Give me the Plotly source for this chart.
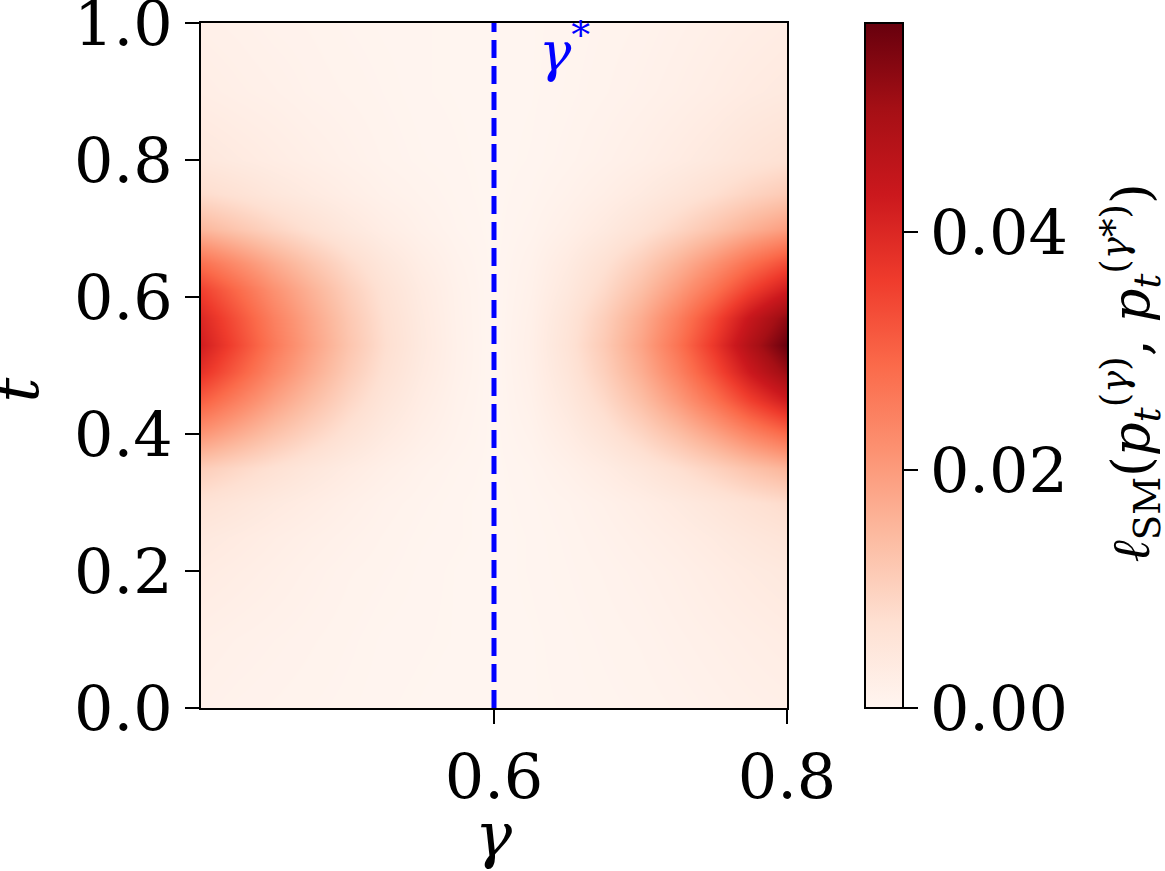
import numpy as np
import plotly.graph_objects as go

# gamma grid (x) and t grid (y)
gamma_vals = [0.400, 0.425, 0.450, 0.475, 0.500, 0.525, 0.550, 0.575, 0.600,
              0.625, 0.650, 0.675, 0.700, 0.725, 0.750, 0.775, 0.800]
t_vals = [0.0, 0.1, 0.2, 0.25, 0.3, 0.35, 0.4, 0.45, 0.49, 0.53, 0.57,
          0.61, 0.65, 0.7, 0.75, 0.8, 0.9, 1.0]

# loss values, in units of 1e-3 (rows follow t_vals, columns follow gamma_vals)
loss_milli = [
    [1.3, 1.0, 0.8, 0.6, 0.4, 0.2, 0.1, 0.0, 0.0, 0.1, 0.2, 0.4, 0.6, 0.9, 1.3, 1.7, 2.0],
    [1.9, 1.5, 1.2, 0.9, 0.6, 0.3, 0.2, 0.1, 0.0, 0.1, 0.3, 0.6, 0.9, 1.4, 1.9, 2.4, 2.9],
    [3.2, 2.6, 2.0, 1.4, 0.9, 0.6, 0.3, 0.1, 0.0, 0.2, 0.5, 0.9, 1.4, 2.0, 2.8, 3.6, 4.3],
    [4.2, 3.4, 2.6, 1.9, 1.3, 0.8, 0.4, 0.2, 0.0, 0.2, 0.6, 1.2, 1.9, 2.7, 3.7, 4.8, 5.8],
    [6.3, 5.1, 3.9, 2.9, 1.9, 1.1, 0.6, 0.2, 0.0, 0.3, 0.8, 1.6, 2.6, 3.8, 5.2, 6.7, 8.1],
    [10.9, 8.8, 6.8, 4.9, 3.3, 2.0, 1.0, 0.4, 0.0, 0.5, 1.6, 3.1, 5.0, 7.3, 10.0, 13.0, 15.6],
    [21.0, 17.0, 13.0, 9.5, 6.3, 3.8, 2.0, 0.8, 0.0, 1.0, 3.0, 5.8, 9.3, 13.5, 18.5, 24.0, 28.8],
    [30.7, 24.8, 19.0, 13.9, 9.2, 5.5, 2.9, 1.1, 0.0, 1.5, 4.4, 8.5, 13.7, 20.0, 27.4, 35.5, 42.6],
    [37.8, 30.6, 23.4, 17.1, 11.3, 6.8, 3.6, 1.4, 0.0, 1.8, 5.4, 10.4, 16.7, 24.3, 33.3, 43.2, 51.8],
    [42.0, 34.0, 26.0, 19.0, 12.6, 7.6, 4.0, 1.5, 0.0, 2.0, 6.0, 11.5, 18.5, 27.0, 37.0, 48.0, 57.6],
    [39.9, 32.3, 24.7, 18.1, 12.0, 7.2, 3.8, 1.4, 0.0, 1.8, 5.5, 10.6, 17.0, 24.8, 34.0, 44.2, 53.0],
    [35.3, 28.6, 21.8, 16.0, 10.6, 6.4, 3.4, 1.3, 0.0, 1.5, 4.4, 8.5, 13.7, 20.0, 27.4, 35.5, 42.6],
    [27.7, 22.4, 17.2, 12.5, 8.3, 5.0, 2.6, 1.0, 0.0, 1.2, 3.5, 6.7, 10.7, 15.7, 21.5, 27.8, 33.4],
    [15.1, 12.2, 9.4, 6.8, 4.5, 2.7, 1.4, 0.5, 0.0, 0.7, 2.0, 3.9, 6.3, 9.2, 12.6, 16.3, 19.6],
    [8.0, 6.5, 4.9, 3.6, 2.4, 1.4, 0.8, 0.3, 0.0, 0.4, 1.2, 2.3, 3.7, 5.4, 7.4, 9.6, 11.5],
    [4.6, 3.7, 2.9, 2.1, 1.4, 0.8, 0.4, 0.2, 0.0, 0.2, 0.7, 1.4, 2.2, 3.2, 4.4, 5.8, 6.9],
    [2.5, 2.0, 1.6, 1.1, 0.8, 0.5, 0.2, 0.1, 0.0, 0.1, 0.4, 0.8, 1.3, 1.9, 2.6, 3.4, 4.0],
    [1.7, 1.4, 1.0, 0.8, 0.5, 0.3, 0.2, 0.1, 0.0, 0.1, 0.3, 0.6, 0.9, 1.4, 1.9, 2.4, 2.9],
]

gamma_star = 0.6
x_ticks = [0.6, 0.8]
y_ticks = [0.0, 0.2, 0.4, 0.6, 0.8, 1.0]
cbar_ticks = [0.0, 0.02, 0.04]
z_max = 0.0576

reds = ["#fff5f0", "#fee0d2", "#fcbba1", "#fc9272", "#fb6a4a",
        "#ef3b2c", "#cb181d", "#a50f15", "#67000d"]
colorscale = [[i / (len(reds) - 1), c] for i, c in enumerate(reds)]

FONT = "DejaVu Serif"
FS = 62

z = np.array(loss_milli) * 1e-3

fig = go.Figure()
fig.add_trace(go.Heatmap(
    x=gamma_vals, y=t_vals, z=z,
    zmin=0, zmax=z_max, zsmooth="best",
    colorscale=colorscale,
    colorbar=dict(
        x=1.133, xanchor="left", xpad=0, ypad=0,
        y=0.5, yanchor="middle", len=1.0, lenmode="fraction",
        thickness=38, outlinewidth=2, outlinecolor="black",
        ticks="outside", ticklen=14, tickwidth=2, tickcolor="black",
        tickvals=cbar_ticks, tickformat=".2f",
        tickfont=dict(family=FONT, size=FS, color="black"),
    ),
    hoverinfo="skip",
))

fig.add_shape(type="line", x0=gamma_star, x1=gamma_star, y0=0, y1=1,
              xref="x", yref="y",
              line=dict(color="#0000ff", width=5, dash="18px,8px"))

fig.add_annotation(x=0.648, y=0.963, xref="x", yref="y",
                   text="<i>γ</i><sup>*</sup>", showarrow=False,
                   font=dict(family=FONT, size=54, color="#0000ff"))

# colorbar label
fig.add_annotation(x=1.587, y=0.49, xref="paper", yref="paper",
                   xanchor="center", yanchor="middle",
                   text="<i>ℓ</i><sub>SM</sub>(<i>p</i><sub><i>t</i></sub><sup>(<i>γ</i>)</sup>, <i>p</i><sub><i>t</i></sub><sup>(<i>γ</i>*)</sup>)",
                   textangle=-90, showarrow=False,
                   font=dict(family=FONT, size=53, color="black"))

# axis labels
fig.add_annotation(x=gamma_star, y=-0.185, xref="x", yref="paper",
                   xanchor="center", yanchor="middle",
                   text="<i>γ</i>", showarrow=False,
                   font=dict(family=FONT, size=FS, color="black"))
fig.add_annotation(x=-0.315, y=0.464, xref="paper", yref="paper",
                   xanchor="center", yanchor="middle", textangle=-90,
                   text="<i>t</i>", showarrow=False,
                   font=dict(family=FONT, size=FS, color="black"))

fig.update_xaxes(range=[0.4, 0.8], tickvals=x_ticks, tickformat=".1f",
                 automargin=False, ticklabeloverflow="allow",
                 showline=True, mirror=True, linecolor="black", linewidth=2,
                 ticks="outside", ticklen=14, tickwidth=2, tickcolor="black",
                 showgrid=False, zeroline=False,
                 tickfont=dict(family=FONT, size=FS, color="black"))
fig.update_yaxes(range=[0, 1], tickvals=y_ticks, tickformat=".1f",
                 automargin=False, ticklabeloverflow="allow",
                 showline=True, mirror=True, linecolor="black", linewidth=2,
                 ticks="outside", ticklen=14, tickwidth=2, tickcolor="black",
                 showgrid=False, zeroline=False,
                 tickfont=dict(family=FONT, size=FS, color="black"))

fig.update_layout(
    width=1165, height=871,
    margin=dict(l=201, r=378, t=23, b=163),
    paper_bgcolor="white", plot_bgcolor="white",
    showlegend=False,
)

fig.write_html("out.html")
